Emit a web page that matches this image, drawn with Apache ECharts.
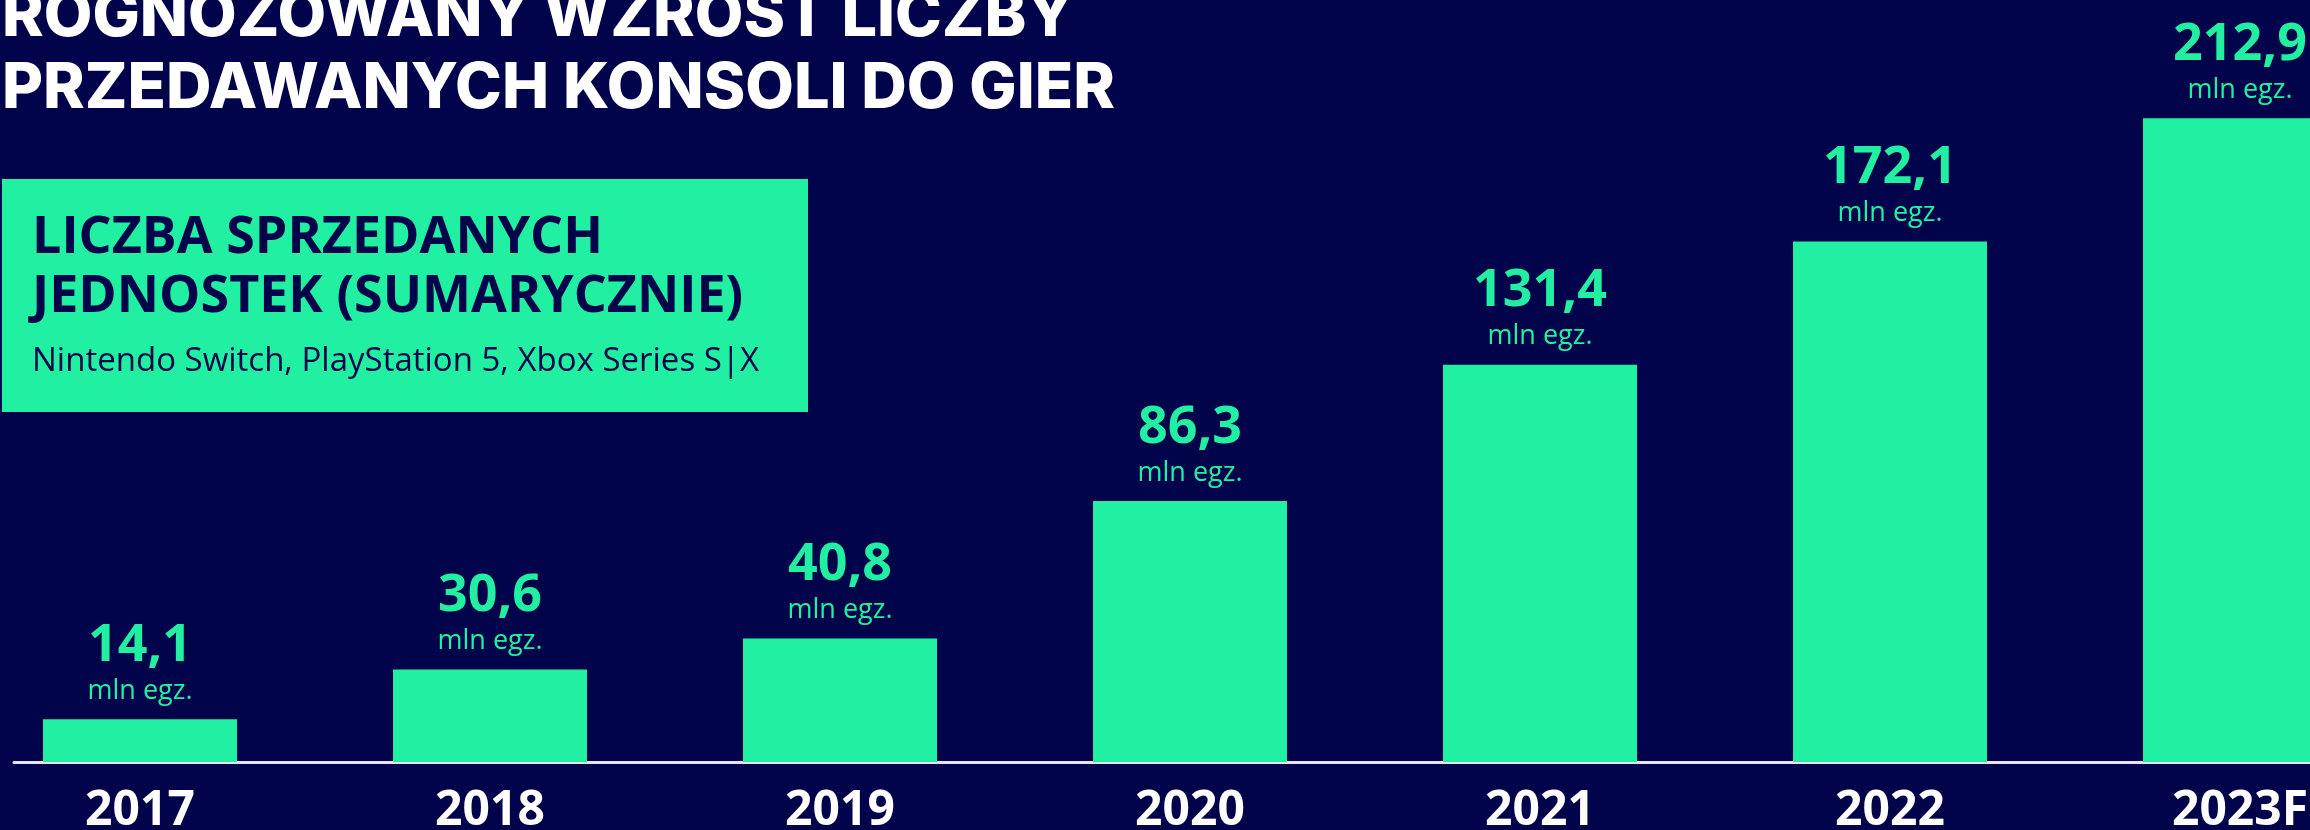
<!DOCTYPE html>
<html>
<head>
<meta charset="utf-8">
<script src="https://cdn.jsdelivr.net/npm/echarts@6/dist/echarts.min.js"></script>
<style>
  html, body { margin: 0; padding: 0; background: #01044a; }
  #chart { width: 2310px; height: 830px; }
</style>
</head>
<body>
<div id="chart"></div>
<script>
// dane z wykresu
const years = ['2017', '2018', '2019', '2020', '2021', '2022', '2023F'];
const units = [14.1, 30.6, 40.8, 86.3, 131.4, 172.1, 212.9];
const unitLabel = 'mln egz.';

const titleLines = ['ROGNOZOWANY WZROST LICZBY', 'PRZEDAWANYCH KONSOLI DO GIER'];
const boxTitle = ['LICZBA SPRZEDANYCH', 'JEDNOSTEK (SUMARYCZNIE)'];
const boxSubtitle = 'Nintendo Switch, PlayStation 5, Xbox Series S|X';

const NAVY = '#01044a';
const GREEN = '#21f0a2';

const chart = echarts.init(document.getElementById('chart'));

const option = {
    backgroundColor: NAVY,
    animation: false,
    title: {
        text: titleLines.join('\n'),
        left: 2,
        top: -19,
        padding: 0,
        textStyle: {
            color: '#ffffff',
            fontFamily: 'Inter, sans-serif',
            fontWeight: 800,
            fontSize: 63,
            lineHeight: 72
        }
    },
    graphic: [
        {
            type: 'rect',
            shape: {x: 2, y: 179, width: 806, height: 233},
            style: {fill: GREEN},
            z: 10
        },
        {
            type: 'text',
            x: 32,
            y: 209,
            style: {
                text: boxTitle.join('\n'),
                fill: NAVY,
                font: 'bold 52px "Open Sans", sans-serif',
                lineHeight: 59,
                verticalAlign: 'top'
            },
            z: 11
        },
        {
            type: 'text',
            x: 32,
            y: 362,
            style: {
                text: boxSubtitle,
                fill: NAVY,
                font: '33px "Open Sans", sans-serif',
                verticalAlign: 'middle'
            },
            z: 11
        }
    ],
    // grid 0: słupki (kategorie w punktach, rozstaw 350 px), grid 1: sama linia osi
    grid: [
        {left: 140, right: 70, top: 6, bottom: 68, outerBoundsMode: 'none'},
        {left: 14, right: 0, top: 6, bottom: 68, outerBoundsMode: 'none'}
    ],
    xAxis: [
        {
            type: 'category',
            gridIndex: 0,
            data: years,
            boundaryGap: false,
            axisLine: {show: false},
            axisTick: {show: false},
            axisLabel: {
                color: '#ffffff',
                fontFamily: '"Open Sans", sans-serif',
                fontWeight: 'bold',
                fontSize: 48,
                margin: 25
            }
        },
        {
            type: 'value',
            gridIndex: 1,
            axisLine: {show: true, lineStyle: {color: '#e6e6ee', width: 3}},
            axisTick: {show: false},
            axisLabel: {show: false},
            splitLine: {show: false}
        }
    ],
    yAxis: [
        {
            type: 'value',
            gridIndex: 0,
            min: 0,
            max: 250,
            show: false,
            splitLine: {show: false}
        },
        {
            type: 'value',
            gridIndex: 1,
            show: false,
            splitLine: {show: false}
        }
    ],
    series: [
        {
            type: 'bar',
            xAxisIndex: 0,
            yAxisIndex: 0,
            data: units,
            barWidth: 194,
            clip: false,
            itemStyle: {color: GREEN},
            label: {
                show: true,
                position: 'top',
                distance: 12,
                formatter: p => '{v|' + String(p.value).replace('.', ',') + '}\n{u|' + unitLabel + '}',
                rich: {
                    v: {
                        color: GREEN,
                        fontFamily: '"Open Sans", sans-serif',
                        fontWeight: 'bold',
                        fontSize: 52,
                        lineHeight: 58
                    },
                    u: {
                        color: GREEN,
                        fontFamily: '"Open Sans", sans-serif',
                        fontSize: 27,
                        lineHeight: 32
                    }
                }
            }
        }
    ]
};

chart.setOption(option);
</script>
</body>
</html>
